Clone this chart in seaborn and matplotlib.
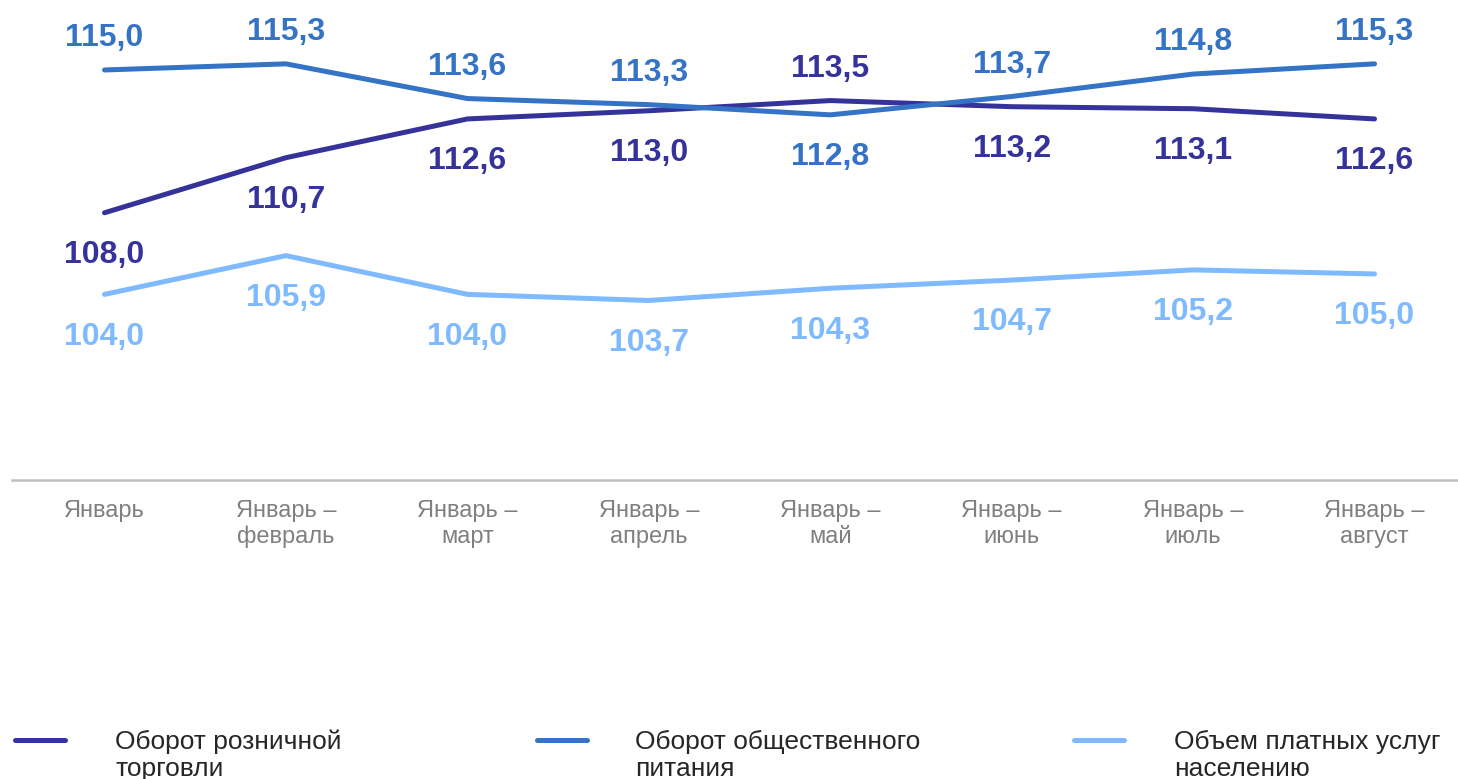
import matplotlib.pyplot as plt
import numpy as np
import pandas as pd
import seaborn as sns
from matplotlib.lines import Line2D

periods = ["Январь", "Январь –\nфевраль", "Январь –\nмарт", "Январь –\nапрель",
           "Январь –\nмай", "Январь –\nиюнь", "Январь –\nиюль", "Январь –\nавгуст"]
series_names = ["Оборот розничной\nторговли", "Оборот общественного\nпитания",
                "Объем платных услуг\nнаселению"]
retail = [108.0, 110.7, 112.6, 113.0, 113.5, 113.2, 113.1, 112.6]
catering = [115.0, 115.3, 113.6, 113.3, 112.8, 113.7, 114.8, 115.3]
services = [104.0, 105.9, 104.0, 103.7, 104.3, 104.7, 105.2, 105.0]
# label above (+1) or below (-1) the point
retail_side = [-1, -1, -1, -1, 1, -1, -1, -1]
catering_side = [1, 1, 1, 1, -1, 1, 1, 1]
services_side = [-1] * 8

colors = ["#35339a", "#3473c5", "#7fbaff"]

df = pd.DataFrame({
    "idx": list(range(8)) * 3,
    "value": retail + catering + services,
    "series": [series_names[0]] * 8 + [series_names[1]] * 8 + [series_names[2]] * 8,
})

sns.set_style("white")
plt.rcParams["font.family"] = ["Liberation Sans", "DejaVu Sans"]

fig = plt.figure(figsize=(14.58, 7.79), dpi=100)
ax = fig.add_axes([12 / 1458, 1 - 480 / 779, 1 - 12 / 1458, 480 / 779])

sns.lineplot(data=df, x="idx", y="value", hue="series", palette=colors,
             linewidth=3.6, legend=False, ax=ax)
for line in ax.lines:
    line.set_solid_capstyle("round")

for vals, sides, c in zip([retail, catering, services],
                          [retail_side, catering_side, services_side], colors):
    for i, (v, s) in enumerate(zip(vals, sides)):
        off = 23 if s > 0 else -30.5
        ax.annotate(f"{v:.1f}".replace(".", ","), (i, v), xytext=(0, off),
                    textcoords="offset points", ha="center", va="center",
                    fontsize=23, fontweight="bold", color=c)

ax.set_xlim(-0.51, 7.46)
ax.set_ylim(94.9, 118.43)
ax.set_xticks(range(8))
ax.set_xticklabels(periods, fontsize=17, color="#808080")
ax.set_yticks([])
ax.tick_params(axis="x", length=0, pad=14.5)
ax.set_xlabel("")
ax.set_ylabel("")
for sp in ["top", "left", "right"]:
    ax.spines[sp].set_visible(False)
ax.spines["bottom"].set_color("#c0c0c0")
ax.spines["bottom"].set_linewidth(1.8)

# legend
leg_x = [15, 537, 1074]
txt_x = [115, 635, 1174]
for name, c, lx, tx in zip(series_names, colors, leg_x, txt_x):
    fig.add_artist(Line2D([lx / 1458, (lx + 50) / 1458], [1 - 740 / 779] * 2,
                          transform=fig.transFigure, color=c, linewidth=3.6))
    fig.text(tx / 1458, 1 - 730 / 779, name, ha="left", va="top",
             fontsize=19, color="#262626", linespacing=1.15)

fig.savefig("out.png", dpi=100)
